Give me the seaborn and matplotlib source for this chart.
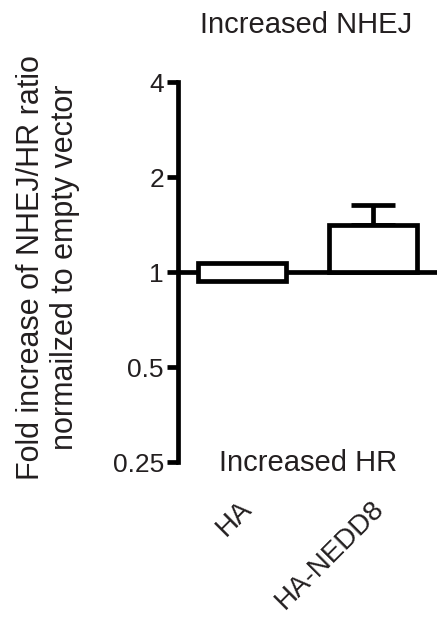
import numpy as np
import pandas as pd
import matplotlib
matplotlib.use("Agg")
import matplotlib.pyplot as plt
import matplotlib.transforms as mtransforms
import seaborn as sns

# --- data ---
constructs = ["HA", "HA-NEDD8"]
bar_low = [0.94, 1.0]      # lower edge of each bar (fold, log2 axis)
bar_high = [1.07, 1.41]    # upper edge of each bar
err_high = [np.nan, 1.63]  # top of upper error bar
y_ticks = [0.25, 0.5, 1, 2, 4]
y_tick_labels = ["0.25", "0.5", "1", "2", "4"]

df = pd.DataFrame({
    "construct": constructs,
    "low": bar_low,
    "span": np.array(bar_high) - np.array(bar_low),
})

sns.set_style("ticks")
plt.rcParams["font.family"] = ["Liberation Sans", "DejaVu Sans"]
txt = "#231f20"
lw = 3.4

fig = plt.figure(figsize=(4.38, 6.27), dpi=100)
ax = fig.add_axes([0.406, 0.263, 0.592, 0.606])

ax.axhline(1, color="black", lw=lw, zorder=1, solid_capstyle="butt")
sns.barplot(data=df, x="construct", y="span", bottom=df["low"], ax=ax,
            color="white", edgecolor="black", linewidth=lw, width=0.67,
            errorbar=None, zorder=3)

# upper error bar for HA-NEDD8
for i, (hi, eh) in enumerate(zip(bar_high, err_high)):
    if np.isnan(eh):
        continue
    ax.errorbar(i, hi, yerr=[[0], [eh - hi]], fmt="none", ecolor="black",
                elinewidth=lw, capsize=16, capthick=lw, zorder=2)

ax.set_yscale("log", base=2)
ax.set_ylim(0.25, 4)
ax.set_xlim(-0.49, 1.485)
ax.set_yticks(y_ticks)
ax.set_yticklabels(y_tick_labels)
ax.yaxis.set_minor_locator(matplotlib.ticker.NullLocator())
ax.tick_params(axis="y", length=8, width=lw, color="black", labelsize=19,
               labelcolor=txt, pad=2)
ax.tick_params(axis="x", length=0, labelsize=20, labelcolor=txt, pad=24)

for s in ["top", "right", "bottom"]:
    ax.spines[s].set_visible(False)
ax.spines["left"].set_linewidth(lw)
ax.spines["left"].set_color("black")
ax.spines["left"].set_capstyle("projecting")

offset = mtransforms.ScaledTranslation(-3 / 100, 0, fig.dpi_scale_trans)
for lab in ax.get_xticklabels():
    lab.set_rotation(45)
    lab.set_ha("right")
    lab.set_rotation_mode("anchor")
    lab.set_transform(lab.get_transform() + offset)

ax.set_xlabel("")
ax.set_ylabel("Fold increase of NHEJ/HR ratio\nnormailzed to empty vector",
              fontsize=22, color=txt, linespacing=1.15)
ax.yaxis.set_label_coords(-0.378, 0.513)

fig.text(306 / 438, 1 - 25 / 627, "Increased NHEJ", fontsize=21, color=txt,
         ha="center", va="center")
fig.text(308 / 438, 1 - 463 / 627, "Increased HR", fontsize=21, color=txt,
         ha="center", va="center")

fig.savefig("out.png", dpi=100)
